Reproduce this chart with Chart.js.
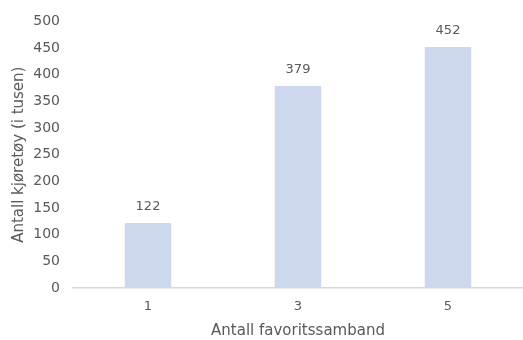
<!DOCTYPE html>
<html>
<head>
<meta charset="utf-8">
<script src="https://cdn.jsdelivr.net/npm/chart.js@4"></script>
<style>
    html, body { margin: 0; padding: 0; background: #ffffff; }
    #wrap { width: 523px; height: 340px; }
</style>
</head>
<body>
<div id="wrap"><canvas id="myChart"></canvas></div>
<script>
const labels = ['1', '3', '5'];
const vehicles = [122, 379, 452];

const textColor = '#595959';
const fontFamily = '"DejaVu Sans", sans-serif';

// prints the value above each bar
const valueLabels = {
    id: 'valueLabels',
    afterDatasetsDraw(chart) {
        const ctx = chart.ctx;
        const meta = chart.getDatasetMeta(0);
        ctx.save();
        ctx.fillStyle = textColor;
        ctx.font = '13px ' + fontFamily;
        ctx.textAlign = 'center';
        ctx.textBaseline = 'middle';
        meta.data.forEach((bar, i) => {
            ctx.fillText(vehicles[i], bar.x, bar.y - 16);
        });
        ctx.restore();
    }
};

new Chart(document.getElementById('myChart'), {
    type: 'bar',
    data: {
        labels: labels,
        datasets: [{
            data: vehicles,
            backgroundColor: '#CDD8EF',
            categoryPercentage: 1,
            barPercentage: 0.31
        }]
    },
    options: {
        responsive: true,
        maintainAspectRatio: false,
        animation: false,
        layout: {padding: {top: 20, right: 0, left: 4, bottom: 0}},
        plugins: {
            legend: {display: false},
            tooltip: {enabled: false}
        },
        scales: {
            x: {
                grid: {display: false, drawTicks: false},
                border: {color: '#D9D9D9', width: 1.5},
                ticks: {color: textColor, font: {family: fontFamily, size: 13}, padding: 11},
                title: {
                    display: true,
                    text: 'Antall favoritssamband',
                    color: textColor,
                    font: {family: fontFamily, size: 15},
                    padding: {top: 4, bottom: 0}
                },
                afterFit(scale) {
                    scale.height = 52;
                }
            },
            y: {
                min: 0,
                max: 500,
                grid: {display: false, drawTicks: false},
                border: {display: false},
                ticks: {stepSize: 50, color: textColor, font: {family: fontFamily, size: 14}, padding: 13},
                title: {
                    display: true,
                    text: 'Antall kjøretøy (i tusen)',
                    color: textColor,
                    font: {family: fontFamily, size: 15},
                    padding: {top: 6, bottom: 4}
                },
                afterFit(scale) {
                    scale.width = 69;
                }
            }
        }
    },
    plugins: [valueLabels]
});
</script>
</body>
</html>
